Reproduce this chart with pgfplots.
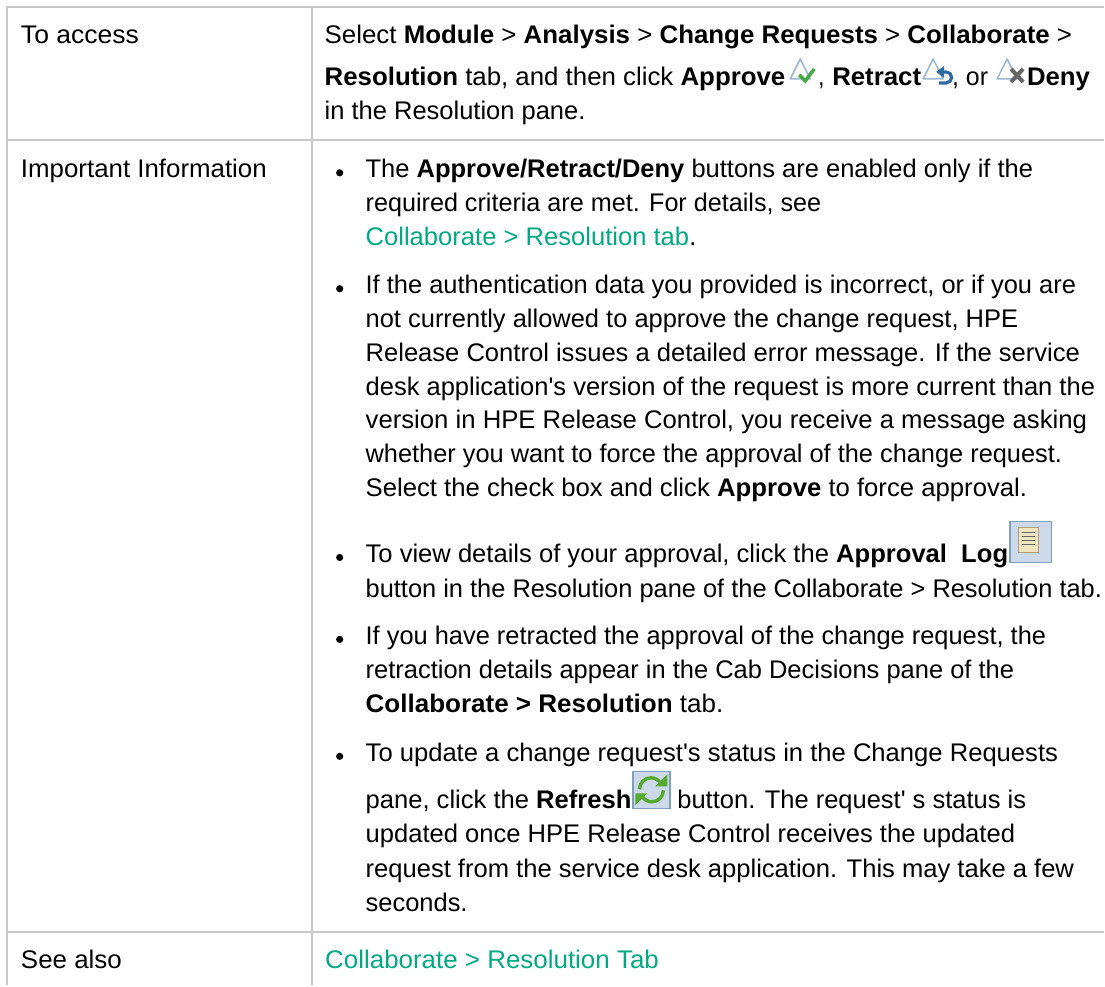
\documentclass[border=0pt]{standalone}
\usepackage{fontspec}
\setmainfont{Liberation Sans}[Ligatures=TeXOff]
\usepackage{graphicx}
\usepackage{pgfplots}
\pgfplotsset{compat=1.18}
\definecolor{rule}{HTML}{C8C8C8}
\definecolor{hpe}{HTML}{01A982}
\definecolor{tri}{HTML}{9DB8D2}
\definecolor{chk}{HTML}{45A845}
\definecolor{ret}{HTML}{2F6AA0}
\definecolor{btn}{HTML}{CBD9E8}
\definecolor{btnb}{HTML}{7F9FBF}
\definecolor{doc}{HTML}{EFE6C0}
\definecolor{grn}{HTML}{55A92F}
% x, baseline y, width in px, text
\newcommand{\T}[4]{\node[anchor=base west,inner sep=0pt,outer sep=0pt,text=black] at (axis cs:#1,#2) {\resizebox{#3pt}{\height}{\fontsize{25.5}{30}\selectfont #4}};}
\newcommand{\B}[1]{\fill[black] (axis cs:340,#1) circle[radius=3.6pt];}
\newcommand{\Tri}[2]{\draw[tri,line width=1.6pt,line join=round] (axis cs:#1,#2) -- (axis cs:#1+10,#2-20) -- (axis cs:#1+20,#2) -- cycle;}
\begin{document}
\begin{tikzpicture}
\begin{axis}[
  scale only axis,width=1105pt,height=986pt,
  xmin=0,xmax=1105,ymin=0,ymax=986,y dir=reverse,
  hide axis,clip=false,
]
\path (axis cs:0,0) rectangle (axis cs:1105,986);
% table rules
\addplot[rule,line width=2pt,forget plot] coordinates {(7.5,7) (1105,7)};
\addplot[rule,line width=2pt,forget plot] coordinates {(7.5,140.5) (1105,140.5)};
\addplot[rule,line width=2pt,forget plot] coordinates {(7.5,933) (1105,933)};
\addplot[rule,line width=2pt,forget plot] coordinates {(7.5,6) (7.5,986)};
\addplot[rule,line width=2pt,forget plot] coordinates {(312,6) (312,986)};
% approve icon
\Tri{791}{79}
\draw[chk,line width=3.4pt] (axis cs:800,75) -- (axis cs:806,81) -- (axis cs:815,69);
% retract icon
\Tri{924}{79}
\draw[ret,line width=3.2pt] (axis cs:944,72) -- (axis cs:947,72) arc[start angle=90,end angle=-90,radius=5.5pt] -- (axis cs:940,83);
\fill[ret] (axis cs:937,72) -- (axis cs:945,66) -- (axis cs:945,78) -- cycle;
% deny icon
\Tri{998}{79}
\draw[black!60,line width=4pt] (axis cs:1012,69) -- (axis cs:1024,82);
\draw[black!60,line width=4pt] (axis cs:1024,69) -- (axis cs:1012,82);
% approval log button
\filldraw[fill=btn,draw=btnb,line width=1.2pt] (axis cs:1011,522) rectangle (axis cs:1052.5,563);
\filldraw[fill=doc,draw=brown!70!black!60,line width=.8pt] (axis cs:1019,528) rectangle (axis cs:1039,553);
\draw[black!60,line width=1.2pt] (axis cs:1023,533) -- (axis cs:1036,533);
\draw[black!60,line width=1.2pt] (axis cs:1023,537) -- (axis cs:1036,537);
\draw[black!60,line width=1.2pt] (axis cs:1023,541) -- (axis cs:1036,541);
\draw[black!60,line width=1.2pt] (axis cs:1023,545) -- (axis cs:1036,545);
% refresh button
\filldraw[fill=btn,draw=btnb,line width=1.2pt] (axis cs:633.5,772) rectangle (axis cs:670.5,809);
\draw[grn,line width=3.4pt] (axis cs:640,790) arc[start angle=180,end angle=35,radius=11.5pt];
\draw[grn,line width=3.4pt] (axis cs:664,791) arc[start angle=0,end angle=-145,radius=11.5pt];
\fill[grn] (axis cs:668,775) -- (axis cs:668,787) -- (axis cs:656,787) -- cycle;
\fill[grn] (axis cs:636,806) -- (axis cs:636,794) -- (axis cs:648,794) -- cycle;
% column one
\T{21}{43.3}{118}{To access}
\T{21}{178}{246}{Important Information}
\T{21}{969}{101}{See also}
% first row
\T{325}{43.3}{748}{Select \textbf{Module} > \textbf{Analysis} > \textbf{Change Requests} > \textbf{Collaborate} >}
\T{325}{86}{461}{\textbf{Resolution} tab, and then click \textbf{Approve}}
\T{819}{86}{6}{,}
\T{833}{86}{89}{\textbf{Retract}}
\T{953}{86}{36}{, or}
\T{1028}{86}{63}{\textbf{Deny}}
\T{325}{120}{261}{in the Resolution pane.}
% bullets
\B{173}
\T{366}{178}{668}{The \textbf{Approve/Retract/Deny} buttons are enabled only if the}
\T{366}{212}{456}{required criteria are met. For details, see}
\T{366}{245.5}{331}{\textcolor{hpe}{Collaborate > Resolution tab}.}
\B{289}
\T{366}{294}{711}{If the authentication data you provided is incorrect, or if you are}
\T{366}{328}{653}{not currently allowed to approve the change request, HPE}
\T{366}{362}{715}{Release Control issues a detailed error message. If the service}
\T{366}{395.5}{730}{desk application's version of the request is more current than the}
\T{366}{429.3}{722}{version in HPE Release Control, you receive a message asking}
\T{366}{463}{697}{whether you want to force the approval of the change request.}
\T{366}{497.3}{662}{Select the check box and click \textbf{Approve} to force approval.}
\B{558}
\T{366}{563}{643}{To view details of your approval, click the \textbf{Approval\ \ Log}}
\T{366}{598}{737}{button in the Resolution pane of the Collaborate > Resolution tab.}
\B{640}
\T{366}{645}{681}{If you have retracted the approval of the change request, the}
\T{366}{679}{649}{retraction details appear in the Cab Decisions pane of the}
\T{366}{713}{358}{\textbf{Collaborate > Resolution} tab.}
\B{757}
\T{366}{762}{693}{To update a change request's status in the Change Requests}
\T{366}{809}{266}{pane, click the \textbf{Refresh}}
\T{678}{809}{349}{button. The request' s status is}
\T{366}{843}{650}{updated once HPE Release Control receives the updated}
\T{366}{878}{709}{request from the service desk application. This may take a few}
\T{366}{912}{102}{seconds.}
\T{325.5}{969}{334}{\textcolor{hpe}{Collaborate > Resolution Tab}}
\end{axis}
\end{tikzpicture}
\end{document}
